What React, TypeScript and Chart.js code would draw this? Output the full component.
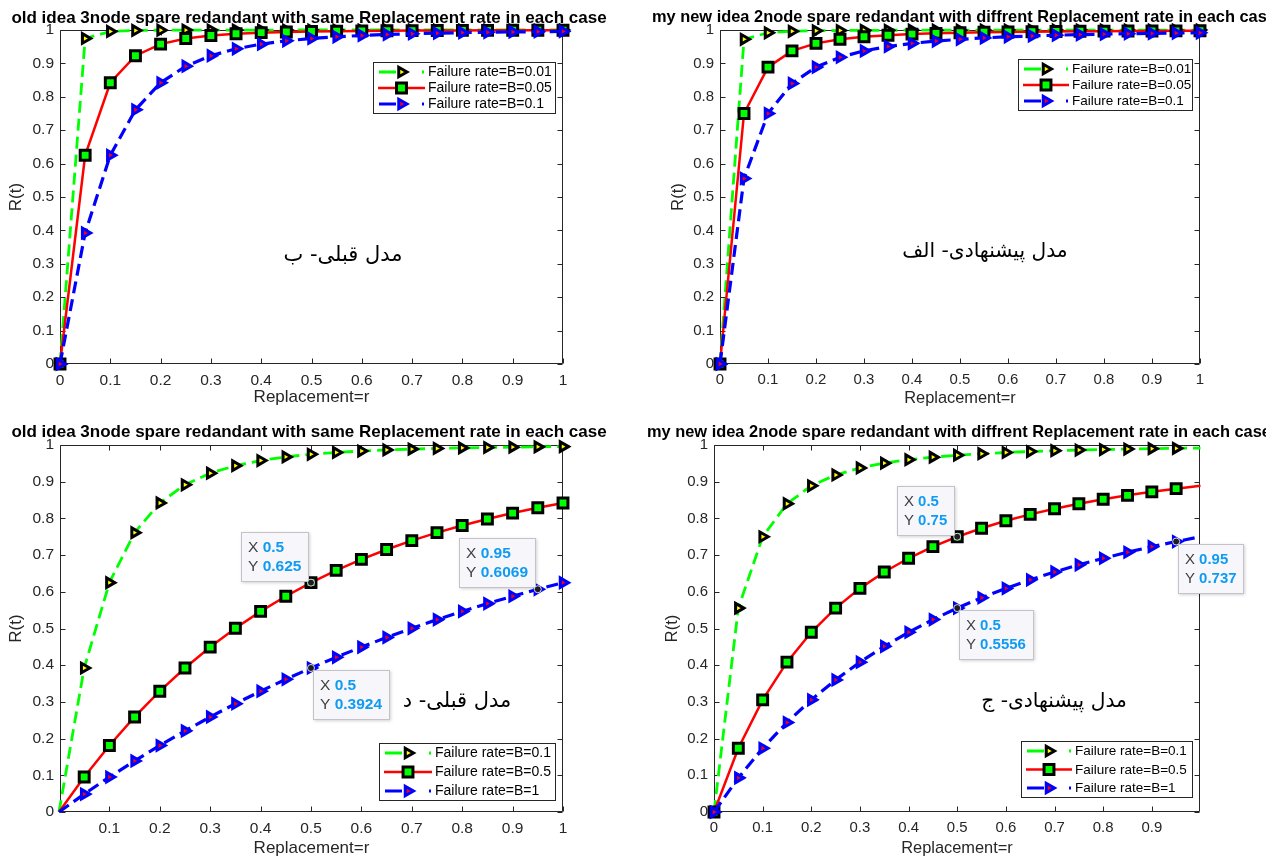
import React, { useEffect, useRef } from "react";
import { Chart, registerables } from "chart.js";

Chart.register(...registerables);

const FONT = "'Liberation Sans', Arial, Helvetica, sans-serif";
const ARABIC_FONT = "'DejaVu Sans', sans-serif";
const AXIS_COLOR = "#262626";
const PAGE_W = 1266;
const PAGE_H = 856;

// ---------------- data ----------------
const replacementRates = [0, 0.05, 0.1, 0.15, 0.2, 0.25, 0.3, 0.35, 0.4, 0.45, 0.5, 0.55, 0.6, 0.65, 0.7, 0.75, 0.8, 0.85, 0.9, 0.95, 1];

const xTicksFull = [0, 0.1, 0.2, 0.3, 0.4, 0.5, 0.6, 0.7, 0.8, 0.9, 1];
const xTicksNoZero = [0.1, 0.2, 0.3, 0.4, 0.5, 0.6, 0.7, 0.8, 0.9, 1];
const xTicksNoOne = [0, 0.1, 0.2, 0.3, 0.4, 0.5, 0.6, 0.7, 0.8, 0.9];
const yTicks = [0, 0.1, 0.2, 0.3, 0.4, 0.5, 0.6, 0.7, 0.8, 0.9, 1];

// old idea (3 node), top panel: B = 0.01, 0.05, 0.1
const oldTopB001 = [0, 0.9746, 0.9956, 0.9986, 0.9994, 0.9997, 0.9998, 0.9999, 0.9999, 0.9999, 1, 1, 1, 1, 1, 1, 1, 1, 1, 1, 1];
const oldTopB005 = [0, 0.625, 0.8421, 0.9231, 0.9577, 0.9746, 0.9836, 0.9888, 0.9921, 0.9942, 0.9956, 0.9966, 0.9973, 0.9979, 0.9982, 0.9986, 0.9988, 0.999, 0.9991, 0.9993, 0.9994];
const oldTopB01 = [0, 0.3924, 0.625, 0.7612, 0.8421, 0.8916, 0.9231, 0.9437, 0.9577, 0.9676, 0.9746, 0.9797, 0.9836, 0.9866, 0.9888, 0.9906, 0.9921, 0.9932, 0.9942, 0.995, 0.9956];

// new idea (2 node), top panel: B = 0.01, 0.05, 0.1
const newTopB001 = [0, 0.9722, 0.9917, 0.9961, 0.9977, 0.9985, 0.999, 0.9992, 0.9994, 0.9995, 0.9996, 0.9997, 0.9997, 0.9998, 0.9998, 0.9998, 0.9998, 0.9999, 0.9999, 0.9999, 0.9999];
const newTopB005 = [0, 0.75, 0.8889, 0.9375, 0.96, 0.9722, 0.9796, 0.9844, 0.9877, 0.99, 0.9917, 0.9931, 0.9941, 0.9949, 0.9956, 0.9961, 0.9965, 0.9969, 0.9972, 0.9975, 0.9977];
const newTopB01 = [0, 0.5556, 0.75, 0.84, 0.8889, 0.9184, 0.9375, 0.9506, 0.96, 0.9669, 0.9722, 0.9763, 0.9796, 0.9822, 0.9844, 0.9862, 0.9877, 0.9889, 0.99, 0.9909, 0.9917];

// old idea (3 node), bottom panel: B = 0.1, 0.5, 1
const oldBottomB01 = [0, 0.3924, 0.625, 0.7612, 0.8421, 0.8916, 0.9231, 0.9437, 0.9577, 0.9676, 0.9746, 0.9797, 0.9836, 0.9866, 0.9888, 0.9906, 0.9921, 0.9932, 0.9942, 0.995, 0.9956];
const oldBottomB05 = [0, 0.0952, 0.1812, 0.259, 0.3292, 0.3924, 0.4493, 0.5005, 0.5466, 0.5879, 0.625, 0.6583, 0.6883, 0.7152, 0.7394, 0.7612, 0.7808, 0.7985, 0.8145, 0.829, 0.8421];
const oldBottomB1 = [0, 0.0488, 0.0952, 0.1393, 0.1812, 0.2211, 0.259, 0.295, 0.3292, 0.3616, 0.3924, 0.4216, 0.4493, 0.4756, 0.5005, 0.5242, 0.5466, 0.5678, 0.5879, 0.6069, 0.625];

// new idea (2 node), bottom panel: B = 0.1, 0.5, 1
const newBottomB01 = [0, 0.5556, 0.75, 0.84, 0.8889, 0.9184, 0.9375, 0.9506, 0.96, 0.9669, 0.9722, 0.9763, 0.9796, 0.9822, 0.9844, 0.9862, 0.9877, 0.9889, 0.99, 0.9909, 0.9917];
const newBottomB05 = [0, 0.1736, 0.3056, 0.4083, 0.4898, 0.5556, 0.6094, 0.654, 0.6914, 0.723, 0.75, 0.7732, 0.7934, 0.811, 0.8264, 0.84, 0.8521, 0.8628, 0.8724, 0.8811, 0.8889];
const newBottomB1 = [0, 0.093, 0.1736, 0.2439, 0.3056, 0.36, 0.4083, 0.4513, 0.4898, 0.5244, 0.5556, 0.5838, 0.6094, 0.6327, 0.654, 0.6735, 0.6914, 0.7078, 0.723, 0.737, 0.75];

const topLegendLabels = ["Failure rate=B=0.01", "Failure rate=B=0.05", "Failure rate=B=0.1"];
const bottomLegendLabels = ["Failure rate=B=0.1", "Failure rate=B=0.5", "Failure rate=B=1"];

const oldTitle = "old idea 3node spare redandant with same Replacement rate in each case";
const newTitle = "my new idea 2node spare redandant with diffrent Replacement rate in each case";
const xAxisTitle = "Replacement=r";
const yAxisTitle = "R(t)";

const noteOldTop = "مدل قبلی- ب";
const noteNewTop = "مدل پیشنهادی- الف";
const noteOldBottom = "مدل قبلی- د";
const noteNewBottom = "مدل پیشنهادی- ج";

// ---------------- styles ----------------
type Shape = "tri" | "sq";
interface SeriesStyle {
  color: string;
  dash: number[];
  width: number;
  shape: Shape;
  fill: string;
  edge: string;
  radius: number;
  edgeWidth: number;
}
const STYLES: SeriesStyle[] = [
  { color: "#00ff00", dash: [12, 6], width: 2.8, shape: "tri", fill: "#ffff00", edge: "#000000", radius: 5.5, edgeWidth: 3 },
  { color: "#ff0000", dash: [], width: 2.5, shape: "sq", fill: "#00ff00", edge: "#000000", radius: 7, edgeWidth: 3 },
  { color: "#0000ff", dash: [12, 6], width: 3.2, shape: "tri", fill: "#ff0000", edge: "#0000ff", radius: 5.5, edgeWidth: 3 },
];

interface Rect { left: number; top: number; right: number; bottom: number; }
interface Tip { series: number; index: number; side: "ul" | "dr"; }
interface PanelSpec {
  key: string;
  title: string;
  titleX: number;
  titleAlign: CanvasTextAlign;
  titleY: number;
  titleSize: number;
  scale: number;
  plot: Rect;
  xMin: number;
  xMax: number;
  xTicks: number[];
  series: number[][];
  labels: string[];
  legend: Rect;
  legendTextOffset: number;
  yLabelX: number;
  xLabelY: number;
  note: string;
  noteX: number;
  noteY: number;
  tips: Tip[];
}

const panels: PanelSpec[] = [
  {
    key: "tl", title: oldTitle, titleX: 309, titleAlign: "center", titleY: 18, titleSize: 17, scale: 1,
    plot: { left: 60, top: 30, right: 563, bottom: 364 },
    xMin: 0, xMax: 1, xTicks: xTicksFull,
    series: [oldTopB001, oldTopB005, oldTopB01], labels: topLegendLabels,
    legend: { left: 373, top: 62, right: 556, bottom: 114 }, legendTextOffset: 55,
    yLabelX: 16, xLabelY: 397,
    note: noteOldTop, noteX: 343, noteY: 256, tips: [],
  },
  {
    key: "tr", title: newTitle, titleX: 652, titleAlign: "left", titleY: 17, titleSize: 16.4, scale: 0.965,
    plot: { left: 720, top: 30, right: 1200, bottom: 364 },
    xMin: 0, xMax: 1, xTicks: xTicksFull,
    series: [newTopB001, newTopB005, newTopB01], labels: topLegendLabels,
    legend: { left: 1018, top: 59, right: 1193, bottom: 111 }, legendTextOffset: 54,
    yLabelX: 678, xLabelY: 398,
    note: noteNewTop, noteX: 985, noteY: 252, tips: [],
  },
  {
    key: "bl", title: oldTitle, titleX: 309, titleAlign: "center", titleY: 432, titleSize: 17, scale: 1,
    plot: { left: 60, top: 445, right: 563, bottom: 812 },
    xMin: 0.002, xMax: 1, xTicks: xTicksNoZero,
    series: [oldBottomB01, oldBottomB05, oldBottomB1], labels: bottomLegendLabels,
    legend: { left: 379, top: 743, right: 556, bottom: 801 }, legendTextOffset: 56,
    yLabelX: 16, xLabelY: 848,
    note: noteOldBottom, noteX: 457, noteY: 702,
    tips: [
      { series: 1, index: 10, side: "ul" },
      { series: 2, index: 19, side: "ul" },
      { series: 2, index: 10, side: "dr" },
    ],
  },
  {
    key: "br", title: newTitle, titleX: 647, titleAlign: "left", titleY: 432, titleSize: 16.4, scale: 0.965,
    plot: { left: 714, top: 445, right: 1200, bottom: 812 },
    xMin: 0, xMax: 0.999, xTicks: xTicksNoOne,
    series: [newBottomB01, newBottomB05, newBottomB1], labels: bottomLegendLabels,
    legend: { left: 1021, top: 741, right: 1193, bottom: 798 }, legendTextOffset: 54,
    yLabelX: 672, xLabelY: 848,
    note: noteNewBottom, noteX: 1054, noteY: 702,
    tips: [
      { series: 1, index: 10, side: "ul" },
      { series: 2, index: 10, side: "dr" },
      { series: 2, index: 19, side: "dr" },
    ],
  },
];

// ---------------- drawing helpers ----------------
function fmtTick(v: number): string {
  return String(parseFloat(Number(v).toFixed(2)));
}

function drawMarker(ctx: CanvasRenderingContext2D, x: number, y: number, s: SeriesStyle) {
  ctx.save();
  ctx.setLineDash([]);
  ctx.beginPath();
  if (s.shape === "sq") {
    const h = Math.SQRT1_2 * s.radius;
    ctx.rect(x - h, y - h, 2 * h, 2 * h);
  } else {
    const r = s.radius;
    ctx.moveTo(x + r, y);
    ctx.lineTo(x - 0.5 * r, y + 0.866 * r);
    ctx.lineTo(x - 0.5 * r, y - 0.866 * r);
    ctx.closePath();
  }
  ctx.fillStyle = s.fill;
  ctx.fill();
  ctx.lineWidth = s.edgeWidth;
  ctx.strokeStyle = s.edge;
  ctx.lineJoin = "miter";
  ctx.stroke();
  ctx.restore();
}

function drawLegend(ctx: CanvasRenderingContext2D, p: PanelSpec) {
  const L = p.legend;
  const w = L.right - L.left;
  const h = L.bottom - L.top;
  const sp = (h - 20) / 2;
  ctx.save();
  ctx.fillStyle = "#ffffff";
  ctx.fillRect(L.left, L.top, w, h);
  ctx.strokeStyle = AXIS_COLOR;
  ctx.lineWidth = 1;
  ctx.strokeRect(L.left + 0.5, L.top + 0.5, w - 1, h - 1);
  const fs = 14 * p.scale;
  ctx.font = `${fs}px ${FONT}`;
  ctx.textBaseline = "middle";
  ctx.textAlign = "left";
  for (let i = 0; i < 3; i++) {
    const s = STYLES[i];
    const y = L.top + 10 + i * sp;
    const x0 = L.left + 6;
    const x1 = L.left + p.legendTextOffset - 4;
    const xm = (x0 + x1) / 2;
    ctx.strokeStyle = s.color;
    ctx.lineWidth = s.width;
    ctx.setLineDash([]);
    ctx.beginPath();
    if (s.dash.length) {
      ctx.moveTo(x0, y);
      ctx.lineTo(x0 + 17, y);
      ctx.moveTo(x1 - 2, y);
      ctx.lineTo(x1, y);
    } else {
      ctx.moveTo(x0 - 1, y);
      ctx.lineTo(x1 + 1, y);
    }
    ctx.stroke();
    drawMarker(ctx, xm, y, s);
    ctx.fillStyle = "#000000";
    ctx.fillText(p.labels[i], L.left + p.legendTextOffset, y + 0.5);
  }
  ctx.restore();
}

function drawTip(ctx: CanvasRenderingContext2D, chart: any, p: PanelSpec, t: Tip) {
  const xv = replacementRates[t.index];
  const yv = p.series[t.series][t.index];
  const px = chart.scales.x.getPixelForValue(xv);
  const py = chart.scales.y.getPixelForValue(yv);
  const xs = fmtTick(xv);
  const ys = String(Number(yv.toPrecision(4)));
  const fs = 15.5 * p.scale;
  ctx.save();
  ctx.font = `${fs}px ${FONT}`;
  const wX = ctx.measureText("X ").width;
  const wY = ctx.measureText("Y ").width;
  ctx.font = `bold ${fs}px ${FONT}`;
  const wxv = ctx.measureText(xs).width;
  const wyv = ctx.measureText(ys).width;
  const boxW = Math.round(Math.max(wX + wxv, wY + wyv) + 15);
  const boxH = 50;
  let bx: number, by: number;
  if (t.side === "ul") {
    bx = px - 2 - boxW;
    by = py - 1 - boxH;
  } else {
    bx = px + 2;
    by = py + 2;
  }
  bx = Math.round(bx);
  by = Math.round(by);
  ctx.shadowColor = "rgba(0,0,0,0.18)";
  ctx.shadowBlur = 3;
  ctx.shadowOffsetX = 1;
  ctx.shadowOffsetY = 1;
  ctx.fillStyle = "#f7f7fb";
  ctx.fillRect(bx, by, boxW, boxH);
  ctx.shadowColor = "transparent";
  ctx.strokeStyle = "#c2c2c8";
  ctx.lineWidth = 1;
  ctx.strokeRect(bx + 0.5, by + 0.5, boxW - 1, boxH - 1);
  ctx.textBaseline = "middle";
  ctx.textAlign = "left";
  const tx = bx + 7;
  ctx.font = `${fs}px ${FONT}`;
  ctx.fillStyle = "#404040";
  ctx.fillText("X ", tx, by + 16);
  ctx.fillText("Y ", tx, by + 35);
  ctx.font = `bold ${fs}px ${FONT}`;
  ctx.fillStyle = "#0f9bf2";
  ctx.fillText(xs, tx + wX, by + 16);
  ctx.fillText(ys, tx + wY, by + 35);
  // data point dot
  ctx.beginPath();
  ctx.arc(px, py, 3.5, 0, Math.PI * 2);
  ctx.fillStyle = "#1e1e1e";
  ctx.fill();
  ctx.lineWidth = 1;
  ctx.strokeStyle = "rgba(235,235,235,0.9)";
  ctx.stroke();
  ctx.restore();
}

function makeDecorPlugin(p: PanelSpec) {
  return {
    id: "decor_" + p.key,
    beforeDatasetsDraw(chart: any) {
      const ctx: CanvasRenderingContext2D = chart.ctx;
      const a = chart.chartArea;
      const l = Math.round(a.left) + 0.5;
      const r = Math.round(a.right) - 0.5;
      const t = Math.round(a.top) + 0.5;
      const b = Math.round(a.bottom) - 0.5;
      ctx.save();
      ctx.strokeStyle = AXIS_COLOR;
      ctx.lineWidth = 1;
      ctx.beginPath();
      ctx.rect(l, t, r - l, b - t);
      ctx.stroke();
      ctx.beginPath();
      for (const v of p.xTicks) {
        const x = Math.round(chart.scales.x.getPixelForValue(v)) + 0.5;
        ctx.moveTo(x, b);
        ctx.lineTo(x, b - 5);
        ctx.moveTo(x, t);
        ctx.lineTo(x, t + 5);
      }
      for (const v of yTicks) {
        const y = Math.round(chart.scales.y.getPixelForValue(v)) + 0.5;
        ctx.moveTo(l, y);
        ctx.lineTo(l + 5, y);
        ctx.moveTo(r, y);
        ctx.lineTo(r - 5, y);
      }
      ctx.stroke();
      ctx.restore();
    },
    afterDraw(chart: any) {
      const ctx: CanvasRenderingContext2D = chart.ctx;
      const a = chart.chartArea;
      ctx.save();
      // title
      ctx.font = `bold ${p.titleSize}px ${FONT}`;
      ctx.fillStyle = "#000000";
      ctx.textAlign = p.titleAlign;
      ctx.textBaseline = "middle";
      ctx.fillText(p.title, p.titleX, p.titleY);
      // axis titles
      ctx.font = `${17 * p.scale}px ${FONT}`;
      ctx.fillStyle = AXIS_COLOR;
      ctx.textAlign = "center";
      ctx.fillText(xAxisTitle, (a.left + a.right) / 2, p.xLabelY);
      ctx.save();
      ctx.translate(p.yLabelX, (a.top + a.bottom) / 2);
      ctx.rotate(-Math.PI / 2);
      ctx.fillText(yAxisTitle, 0, 0);
      ctx.restore();
      // arabic note
      ctx.font = `${21 * p.scale}px ${ARABIC_FONT}`;
      ctx.fillStyle = "#000000";
      ctx.direction = "rtl";
      ctx.textAlign = "center";
      ctx.fillText(p.note, p.noteX, p.noteY);
      ctx.direction = "ltr";
      ctx.restore();
      drawLegend(ctx, p);
      for (const t of p.tips) drawTip(ctx, chart, p, t);
    },
  };
}

function buildConfig(p: PanelSpec): any {
  const datasets = p.series.map((vals, i) => {
    const s = STYLES[i];
    return {
      label: p.labels[i],
      data: replacementRates.map((x, k) => ({ x, y: vals[k] })),
      showLine: true,
      borderColor: s.color,
      borderWidth: s.width,
      borderDash: s.dash,
      backgroundColor: s.fill,
      pointStyle: s.shape === "sq" ? "rect" : "triangle",
      pointRotation: s.shape === "sq" ? 0 : 90,
      pointBackgroundColor: s.fill,
      pointBorderColor: s.edge,
      pointBorderWidth: s.edgeWidth,
      pointRadius: (c: any) => {
        const xv = c.raw ? c.raw.x : 0;
        return xv < p.xMin - 1e-9 || xv > p.xMax + 1e-9 ? 0 : s.radius;
      },
      pointHoverRadius: s.radius,
      fill: false,
      tension: 0,
      clip: false,
      order: 2 - i,
    };
  });
  const tickFont = { family: FONT, size: 15.5 * p.scale };
  return {
    type: "scatter",
    data: { datasets },
    options: {
      animation: false,
      responsive: false,
      maintainAspectRatio: false,
      devicePixelRatio: 1,
      events: [],
      layout: { padding: { left: 0, top: p.plot.top, right: PAGE_W - p.plot.right, bottom: 0 } },
      plugins: { legend: { display: false }, tooltip: { enabled: false }, title: { display: false } },
      scales: {
        x: {
          type: "linear",
          position: "bottom",
          min: p.xMin,
          max: p.xMax,
          afterBuildTicks: (sc: any) => {
            sc.ticks = p.xTicks.map((v) => ({ value: v }));
          },
          afterFit: (sc: any) => {
            sc.height = PAGE_H - p.plot.bottom;
          },
          ticks: {
            font: tickFont,
            color: AXIS_COLOR,
            padding: 7,
            maxRotation: 0,
            autoSkip: false,
            callback: (v: any) => fmtTick(Number(v)),
          },
          grid: { display: false, drawTicks: false },
          border: { display: false },
        },
        y: {
          type: "linear",
          position: "left",
          min: 0,
          max: 1,
          afterBuildTicks: (sc: any) => {
            sc.ticks = yTicks.map((v) => ({ value: v }));
          },
          afterFit: (sc: any) => {
            sc.width = p.plot.left;
          },
          ticks: {
            font: tickFont,
            color: AXIS_COLOR,
            padding: 6,
            autoSkip: false,
            callback: (v: any) => fmtTick(Number(v)),
          },
          grid: { display: false, drawTicks: false },
          border: { display: false },
        },
      },
    },
    plugins: [makeDecorPlugin(p)],
  };
}

function PanelChart({ spec }: { spec: PanelSpec }) {
  const ref = useRef<HTMLCanvasElement | null>(null);
  useEffect(() => {
    if (!ref.current) return;
    const chart = new Chart(ref.current, buildConfig(spec));
    return () => chart.destroy();
  }, [spec]);
  return (
    <canvas
      ref={ref}
      width={PAGE_W}
      height={PAGE_H}
      style={{ position: "absolute", left: 0, top: 0, width: PAGE_W, height: PAGE_H }}
    />
  );
}

export default function App() {
  return (
    <div
      style={{
        position: "absolute",
        left: 0,
        top: 0,
        width: PAGE_W,
        height: PAGE_H,
        background: "#ffffff",
        overflow: "hidden",
      }}
    >
      {panels.map((p) => (
        <PanelChart key={p.key} spec={p} />
      ))}
    </div>
  );
}
